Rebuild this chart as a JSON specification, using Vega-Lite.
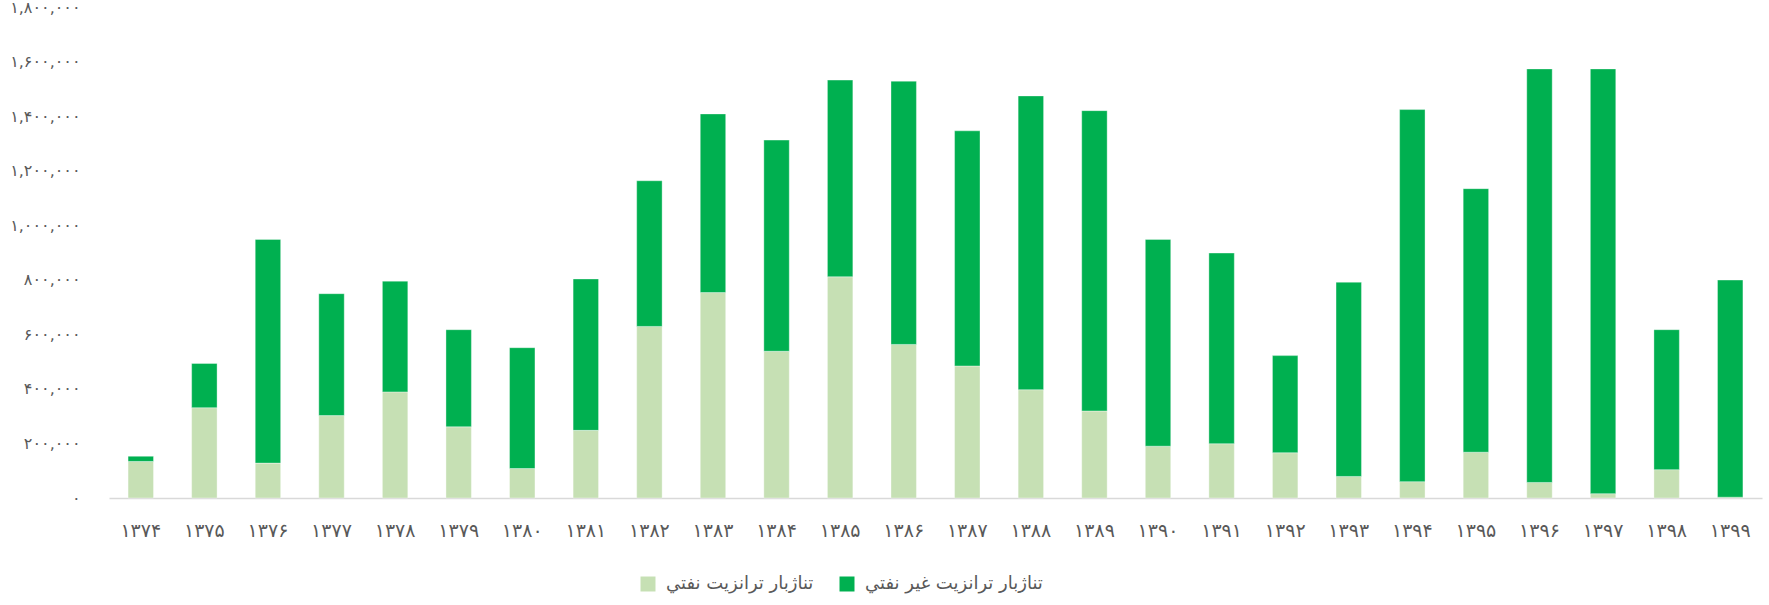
{
  "$schema": "https://vega.github.io/schema/vega-lite/v6.json",
  "width": 1653,
  "height": 491,
  "autosize": {"type": "none"},
  "padding": {"left": 109, "top": 7, "right": 7, "bottom": 107},
  "background": "white",
  "config": {"view": {"stroke": null}, "font": "DejaVu Sans"},
  "data": {"values": [
    {"year": "۱۳۷۴", "type": "تناژبار ترانزیت نفتي", "value": 134000},
    {"year": "۱۳۷۴", "type": "تناژبار ترانزیت غیر نفتي", "value": 19000},
    {"year": "۱۳۷۵", "type": "تناژبار ترانزیت نفتي", "value": 331000},
    {"year": "۱۳۷۵", "type": "تناژبار ترانزیت غیر نفتي", "value": 162000},
    {"year": "۱۳۷۶", "type": "تناژبار ترانزیت نفتي", "value": 128000},
    {"year": "۱۳۷۶", "type": "تناژبار ترانزیت غیر نفتي", "value": 820000},
    {"year": "۱۳۷۷", "type": "تناژبار ترانزیت نفتي", "value": 302000},
    {"year": "۱۳۷۷", "type": "تناژبار ترانزیت غیر نفتي", "value": 447000},
    {"year": "۱۳۷۸", "type": "تناژبار ترانزیت نفتي", "value": 389000},
    {"year": "۱۳۷۸", "type": "تناژبار ترانزیت غیر نفتي", "value": 406000},
    {"year": "۱۳۷۹", "type": "تناژبار ترانزیت نفتي", "value": 261000},
    {"year": "۱۳۷۹", "type": "تناژبار ترانزیت غیر نفتي", "value": 356000},
    {"year": "۱۳۸۰", "type": "تناژبار ترانزیت نفتي", "value": 108000},
    {"year": "۱۳۸۰", "type": "تناژبار ترانزیت غیر نفتي", "value": 443000},
    {"year": "۱۳۸۱", "type": "تناژبار ترانزیت نفتي", "value": 248000},
    {"year": "۱۳۸۱", "type": "تناژبار ترانزیت غیر نفتي", "value": 555000},
    {"year": "۱۳۸۲", "type": "تناژبار ترانزیت نفتي", "value": 629000},
    {"year": "۱۳۸۲", "type": "تناژبار ترانزیت غیر نفتي", "value": 534000},
    {"year": "۱۳۸۳", "type": "تناژبار ترانزیت نفتي", "value": 753000},
    {"year": "۱۳۸۳", "type": "تناژبار ترانزیت غیر نفتي", "value": 655000},
    {"year": "۱۳۸۴", "type": "تناژبار ترانزیت نفتي", "value": 538000},
    {"year": "۱۳۸۴", "type": "تناژبار ترانزیت غیر نفتي", "value": 774000},
    {"year": "۱۳۸۵", "type": "تناژبار ترانزیت نفتي", "value": 811000},
    {"year": "۱۳۸۵", "type": "تناژبار ترانزیت غیر نفتي", "value": 721000},
    {"year": "۱۳۸۶", "type": "تناژبار ترانزیت نفتي", "value": 563000},
    {"year": "۱۳۸۶", "type": "تناژبار ترانزیت غیر نفتي", "value": 965000},
    {"year": "۱۳۸۷", "type": "تناژبار ترانزیت نفتي", "value": 484000},
    {"year": "۱۳۸۷", "type": "تناژبار ترانزیت غیر نفتي", "value": 862000},
    {"year": "۱۳۸۸", "type": "تناژبار ترانزیت نفتي", "value": 397000},
    {"year": "۱۳۸۸", "type": "تناژبار ترانزیت غیر نفتي", "value": 1077000},
    {"year": "۱۳۸۹", "type": "تناژبار ترانزیت نفتي", "value": 319000},
    {"year": "۱۳۸۹", "type": "تناژبار ترانزیت غیر نفتي", "value": 1101000},
    {"year": "۱۳۹۰", "type": "تناژبار ترانزیت نفتي", "value": 190000},
    {"year": "۱۳۹۰", "type": "تناژبار ترانزیت غیر نفتي", "value": 758000},
    {"year": "۱۳۹۱", "type": "تناژبار ترانزیت نفتي", "value": 199000},
    {"year": "۱۳۹۱", "type": "تناژبار ترانزیت غیر نفتي", "value": 699000},
    {"year": "۱۳۹۲", "type": "تناژبار ترانزیت نفتي", "value": 166000},
    {"year": "۱۳۹۲", "type": "تناژبار ترانزیت غیر نفتي", "value": 356000},
    {"year": "۱۳۹۳", "type": "تناژبار ترانزیت نفتي", "value": 79000},
    {"year": "۱۳۹۳", "type": "تناژبار ترانزیت غیر نفتي", "value": 712000},
    {"year": "۱۳۹۴", "type": "تناژبار ترانزیت نفتي", "value": 60000},
    {"year": "۱۳۹۴", "type": "تناژبار ترانزیت غیر نفتي", "value": 1364000},
    {"year": "۱۳۹۵", "type": "تناژبار ترانزیت نفتي", "value": 168000},
    {"year": "۱۳۹۵", "type": "تناژبار ترانزیت غیر نفتي", "value": 966000},
    {"year": "۱۳۹۶", "type": "تناژبار ترانزیت نفتي", "value": 57000},
    {"year": "۱۳۹۶", "type": "تناژبار ترانزیت غیر نفتي", "value": 1516000},
    {"year": "۱۳۹۷", "type": "تناژبار ترانزیت نفتي", "value": 16000},
    {"year": "۱۳۹۷", "type": "تناژبار ترانزیت غیر نفتي", "value": 1557000},
    {"year": "۱۳۹۸", "type": "تناژبار ترانزیت نفتي", "value": 104000},
    {"year": "۱۳۹۸", "type": "تناژبار ترانزیت غیر نفتي", "value": 513000},
    {"year": "۱۳۹۹", "type": "تناژبار ترانزیت نفتي", "value": 3000},
    {"year": "۱۳۹۹", "type": "تناژبار ترانزیت غیر نفتي", "value": 796000}
  ]},
  "mark": {"type": "bar", "stroke": "white", "strokeWidth": 0.6, "strokeOpacity": 0.6},
  "encoding": {
    "x": {
      "field": "year", "type": "ordinal", "sort": null,
      "scale": {"paddingInner": 0.6, "paddingOuter": 0.3},
      "axis": {"title": null, "labelAngle": 0, "ticks": false, "domainColor": "#d9d9d9", "domainWidth": 1.5,
               "labelFontSize": 19, "labelColor": "#595959", "labelPadding": 23}
    },
    "y": {
      "field": "value", "type": "quantitative", "stack": "zero",
      "scale": {"domain": [0, 1800000], "nice": false},
      "axis": {"title": null, "domain": false, "ticks": false, "grid": false,
               "values": [0, 200000, 400000, 600000, 800000, 1000000, 1200000, 1400000, 1600000, 1800000],
               "labelFontSize": 16, "labelColor": "#595959", "labelPadding": 29,
               "labelExpr": "replace(replace(replace(replace(replace(replace(replace(replace(replace(replace(datum.label,regexp('0','g'),'۰'),regexp('1','g'),'۱'),regexp('2','g'),'۲'),regexp('3','g'),'۳'),regexp('4','g'),'۴'),regexp('5','g'),'۵'),regexp('6','g'),'۶'),regexp('7','g'),'۷'),regexp('8','g'),'۸'),regexp('9','g'),'۹')"}
    },
    "color": {
      "field": "type", "type": "nominal",
      "scale": {"domain": ["تناژبار ترانزیت نفتي", "تناژبار ترانزیت غیر نفتي"], "range": ["#c6e0b4", "#00b050"]},
      "legend": {"title": null, "orient": "none", "legendX": 530, "legendY": 568, "direction": "horizontal",
                 "symbolType": "square", "symbolSize": 225, "symbolStrokeWidth": 0, "labelFontSize": 18,
                 "labelLimit": 400, "labelColor": "#595959", "columnPadding": 24, "labelOffset": 9}
    },
    "order": {"field": "type", "sort": "descending"}
  }
}
